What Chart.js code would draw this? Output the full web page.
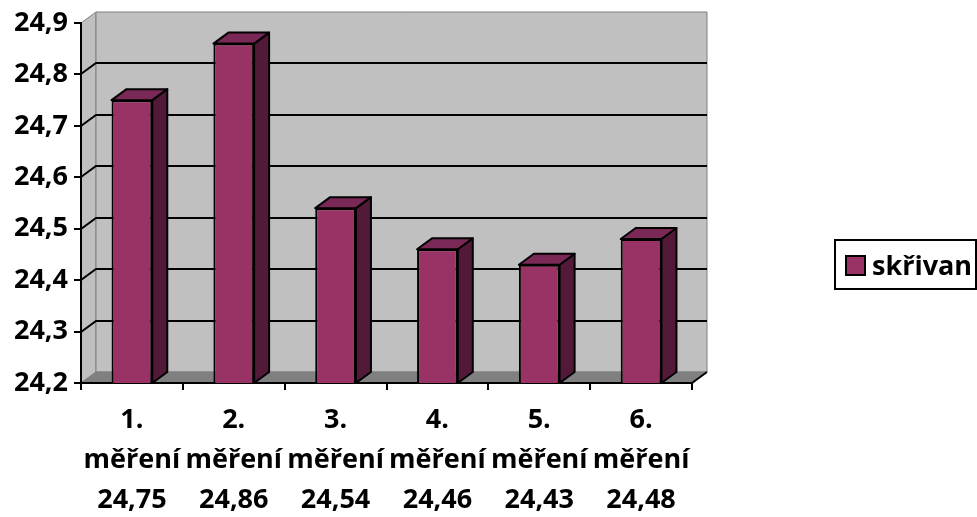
<!DOCTYPE html>
<html>
<head>
<meta charset="utf-8">
<script src="https://cdn.jsdelivr.net/npm/chart.js@4"></script>
<style>
  html, body { margin: 0; padding: 0; background: #fff; }
  canvas { display: block; }
</style>
</head>
<body>
<canvas id="chart" width="977" height="517"></canvas>
<script>
// ---- data ----
const SERIES_NAME = 'skřivan';
const ORDINALS = ['1.', '2.', '3.', '4.', '5.', '6.'];
const UNIT_WORD = 'měření';
const VALUES = [24.75, 24.86, 24.54, 24.46, 24.43, 24.48];
const Y_MIN = 24.2;
const Y_MAX = 24.9;
const Y_STEP = 0.1;

// ---- look ----
const FONT = "'Open Sans', 'Noto Sans', sans-serif";
const FRONT = '#993366';
const SIDE = '#521a38';
const TOP = '#7a2856';
const WALL = '#c0c0c0';
const FLOOR = '#808080';
const DX = 15, DY = -11;   // depth offset of the 3d box

const comma = (v, d) => v.toFixed(d).replace('.', ',');
const labels = ORDINALS.map((o, i) => [o, UNIT_WORD, comma(VALUES[i], 2)]);

function poly(ctx, pts, fill, stroke) {
  ctx.beginPath();
  ctx.moveTo(pts[0][0], pts[0][1]);
  for (let i = 1; i < pts.length; i++) ctx.lineTo(pts[i][0], pts[i][1]);
  ctx.closePath();
  if (fill) ctx.fill();
  if (stroke) ctx.stroke();
}

// walls, floor and back gridlines go under the axes
const wallsPlugin = {
  id: 'walls',
  beforeDraw(chart) {
    const { ctx, chartArea: a, scales: { y } } = chart;
    ctx.save();
    ctx.fillStyle = WALL;
    ctx.strokeStyle = '#808080';
    ctx.lineWidth = 1;
    poly(ctx, [[a.left, a.top], [a.left + DX, a.top + DY], [a.left + DX, a.bottom + DY], [a.left, a.bottom]], true, true);
    poly(ctx, [[a.left + DX, a.top + DY], [a.right + DX, a.top + DY], [a.right + DX, a.bottom + DY], [a.left + DX, a.bottom + DY]], true, true);

    ctx.fillStyle = FLOOR;
    poly(ctx, [[a.left, a.bottom], [a.right, a.bottom], [a.right + DX, a.bottom + DY], [a.left + DX, a.bottom + DY]], true, true);

    ctx.strokeStyle = '#000';
    ctx.lineWidth = 2;
    ctx.beginPath();
    ctx.moveTo(a.right, a.bottom);
    ctx.lineTo(a.right + DX, a.bottom + DY);
    ctx.stroke();

    y.ticks.forEach(t => {
      if (t.value <= Y_MIN + 1e-6 || t.value >= Y_MAX - 1e-6) return;
      const py = Math.round(y.getPixelForValue(t.value));
      ctx.beginPath();
      ctx.moveTo(a.left, py);
      ctx.lineTo(a.left + DX, py + DY);
      ctx.lineTo(a.right + DX, py + DY);
      ctx.stroke();
    });
    ctx.restore();
  }
};

// side and top faces of each column
const depthPlugin = {
  id: 'depth',
  afterDatasetsDraw(chart) {
    const { ctx, chartArea: a } = chart;
    chart.getDatasetMeta(0).data.forEach(bar => {
      const { x, y, base, width } = bar.getProps(['x', 'y', 'base', 'width'], true);
      const bottom = Math.min(base, a.bottom);
      const l = x - width / 2, r = x + width / 2;
      ctx.save();
      ctx.lineWidth = 2;
      ctx.strokeStyle = '#000';
      ctx.lineJoin = 'round';
      ctx.fillStyle = SIDE;
      poly(ctx, [[r, y], [r + DX, y + DY], [r + DX, bottom + DY], [r, bottom]], true, true);
      ctx.fillStyle = TOP;
      poly(ctx, [[l, y], [l + DX, y + DY], [r + DX, y + DY], [r, y]], true, true);
      ctx.restore();
    });
  }
};

// boxed legend on the right
const legendPlugin = {
  id: 'boxLegend',
  afterDraw(chart) {
    const { ctx } = chart;
    ctx.save();
    ctx.lineWidth = 2;
    ctx.strokeStyle = '#000';
    ctx.fillStyle = '#fff';
    ctx.fillRect(835, 240, 141, 49);
    ctx.strokeRect(835, 240, 141, 49);
    ctx.fillStyle = FRONT;
    ctx.fillRect(846, 256, 19, 19);
    ctx.strokeRect(846, 256, 19, 19);
    ctx.fillStyle = '#000';
    ctx.font = `bold 27px ${FONT}`;
    ctx.textBaseline = 'alphabetic';
    ctx.fillText(chart.data.datasets[0].label, 872, 275);
    ctx.restore();
  }
};

const yFont = { family: FONT, size: 27, weight: 'bold' };
const xFont = { family: FONT, size: 27, weight: 'bold', lineHeight: 1.48 };

new Chart(document.getElementById('chart'), {
  type: 'bar',
  data: {
    labels,
    datasets: [{
      label: SERIES_NAME,
      data: VALUES,
      backgroundColor: FRONT,
      borderColor: '#000',
      borderWidth: 2,
      borderSkipped: false,
      categoryPercentage: 1,
      barPercentage: 0.4,
    }],
  },
  options: {
    responsive: false,
    animation: false,
    devicePixelRatio: 1,
    layout: { padding: { left: 0, top: 23, right: 285, bottom: 0 } },
    plugins: { legend: { display: false }, tooltip: { enabled: false } },
    scales: {
      x: {
        grid: { offset: true, drawOnChartArea: false, tickLength: 7, color: '#000', lineWidth: 2 },
        border: { color: '#000', width: 2 },
        ticks: { font: xFont, color: '#000', padding: 10, maxRotation: 0, autoSkip: false },
        afterFit(scale) { scale.height = 134; },
      },
      y: {
        min: Y_MIN,
        max: Y_MAX,
        grid: { drawOnChartArea: false, tickLength: 7, color: '#000', lineWidth: 2 },
        border: { color: '#000', width: 2 },
        ticks: {
          stepSize: Y_STEP,
          font: yFont,
          color: '#000',
          padding: 6,
          callback: v => comma(v, 1),
        },
        afterFit(scale) { scale.width = 81; },
      },
    },
  },
  plugins: [wallsPlugin, depthPlugin, legendPlugin],
});
</script>
</body>
</html>
